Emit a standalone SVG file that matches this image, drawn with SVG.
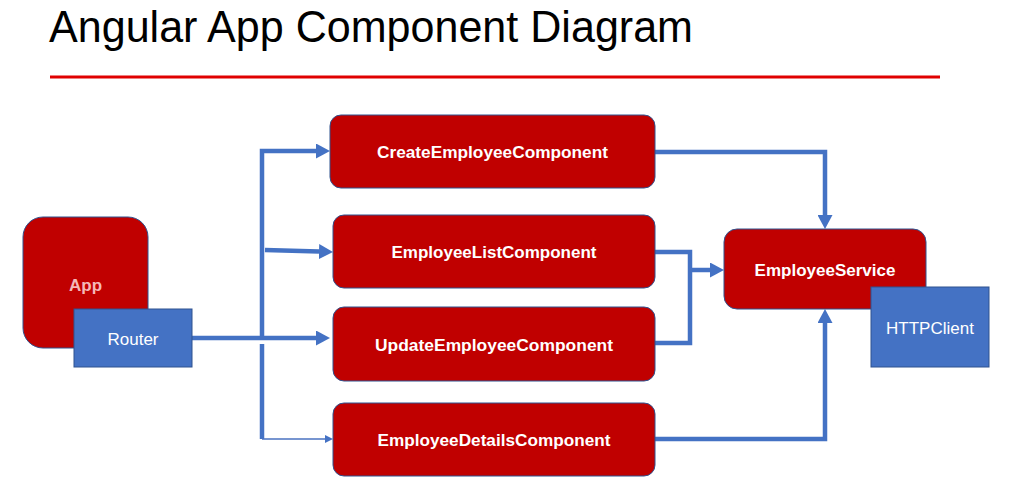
<svg xmlns="http://www.w3.org/2000/svg" width="1015" height="492" viewBox="0 0 1015 492">
<style>
.comp{fill:#c00000;stroke:#2f528f;stroke-width:1}
.blue{fill:#4472c4;stroke:#2f528f;stroke-width:1}
.lbl{font-family:"Liberation Sans",Arial,sans-serif;font-size:17px;fill:#ffffff;text-anchor:middle}
.b{font-weight:bold}
.con{fill:none;stroke:#4472c4;stroke-width:4.5;stroke-linejoin:miter}
.thin{fill:none;stroke:#4a72c0;stroke-width:1.3}
</style>
<defs>
<marker id="ah" viewBox="0 0 14 15" refX="0" refY="7.5" markerWidth="14" markerHeight="15" markerUnits="userSpaceOnUse" orient="auto">
<path d="M0,0 L14,7.5 L0,15 z" fill="#4472c4"/>
</marker>
<marker id="ahs" viewBox="0 0 8 8" refX="0" refY="4" markerWidth="8" markerHeight="8" markerUnits="userSpaceOnUse" orient="auto">
<path d="M0,0 L8,4 L0,8 z" fill="#4472c4"/>
</marker>
</defs>
<rect width="1015" height="492" fill="#ffffff"/>
<g id="title">
<text x="49" y="42" font-family="'Liberation Sans',Arial,sans-serif" font-size="44" fill="#000000" textLength="644" lengthAdjust="spacingAndGlyphs">Angular App Component Diagram</text>
<line x1="50" y1="77" x2="940" y2="77" stroke="#e00000" stroke-width="3"/>
</g>
<g id="connectors">
<path class="con" d="M262,439 V344"/>
<path class="con" d="M262,340 V151 H316" marker-end="url(#ah)"/>
<path class="con" d="M265,250 L319,251.6" marker-end="url(#ah)"/>
<path class="con" d="M192,338 H316" marker-end="url(#ah)"/>
<path class="thin" d="M262,439 H325" marker-end="url(#ahs)"/>
<path class="con" d="M654,152 H825 V215" marker-end="url(#ah)"/>
<path class="con" d="M654,252 H690 V343 H654"/>
<path class="con" d="M690,270 H710" marker-end="url(#ah)"/>
<path class="con" d="M654,439 H825 V323" marker-end="url(#ah)"/>
</g>
<g id="app">
<rect class="comp" x="23" y="217" width="125" height="131" rx="20"/>
<text class="lbl b" x="85.5" y="291" style="fill:#f4b8b8">App</text>
</g>
<g id="router">
<rect class="blue" x="74" y="309" width="118" height="58"/>
<text class="lbl" x="133" y="345">Router</text>
</g>
<g id="create">
<rect class="comp" x="330" y="115" width="325" height="73" rx="11"/>
<text class="lbl b" x="492.5" y="158" textLength="231" lengthAdjust="spacingAndGlyphs">CreateEmployeeComponent</text>
</g>
<g id="list">
<rect class="comp" x="333" y="215" width="322" height="73" rx="11"/>
<text class="lbl b" x="494" y="258" textLength="205" lengthAdjust="spacingAndGlyphs">EmployeeListComponent</text>
</g>
<g id="update">
<rect class="comp" x="333" y="307" width="322" height="74" rx="11"/>
<text class="lbl b" x="494" y="351" textLength="238" lengthAdjust="spacingAndGlyphs">UpdateEmployeeComponent</text>
</g>
<g id="details">
<rect class="comp" x="333" y="403" width="322" height="73" rx="11"/>
<text class="lbl b" x="494" y="446" textLength="233" lengthAdjust="spacingAndGlyphs">EmployeeDetailsComponent</text>
</g>
<g id="service">
<rect class="comp" x="724" y="229" width="202" height="80" rx="13"/>
<text class="lbl b" x="825" y="276">EmployeeService</text>
</g>
<g id="httpclient">
<rect class="blue" x="871" y="287" width="118" height="80"/>
<text class="lbl" x="930" y="334">HTTPClient</text>
</g>
</svg>
